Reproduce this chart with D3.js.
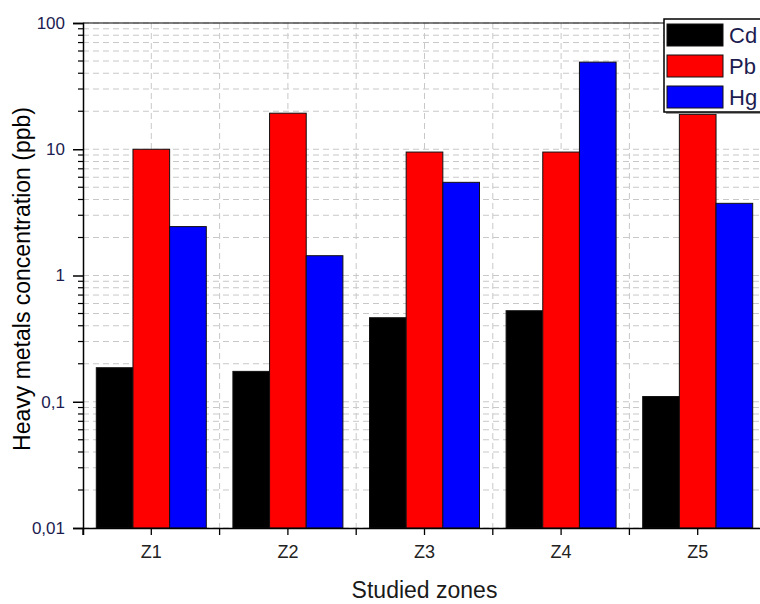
<!DOCTYPE html>
<html>
<head>
<meta charset="utf-8">
<script src="https://cdn.jsdelivr.net/npm/d3@7"></script>
<style>
    body { margin: 0; background: #fff; }
    svg { display: block; font-family: Arial, "Liberation Sans", sans-serif; }
</style>
</head>
<body>
<div id="chart"></div>
<script>
// datos
const zones = ["Z1", "Z2", "Z3", "Z4", "Z5"];
const metals = ["Cd", "Pb", "Hg"];
const cdValues = [0.186, 0.174, 0.463, 0.526, 0.110];
const pbValues = [10.0, 19.3, 9.5, 9.5, 18.9];
const hgValues = [2.44, 1.435, 5.47, 49, 3.73];
const yTickValues = [100, 10, 1, 0.1, 0.01];
const yTickLabels = ["100", "10", "1", "0,1", "0,01"];
const metalColors = ["#000000", "#ff0000", "#0000ff"];

const seriesValues = [cdValues, pbValues, hgValues];

const width = 760, height = 604;
const margin = { left: 83, top: 23, right: 766, bottom: 528 };

let svg = d3.select("#chart").append("svg")
    .attr("width", width)
    .attr("height", height);

// eje x: una banda por zona, y dentro una sub-banda por metal
let x = d3.scaleBand()
    .domain(zones)
    .range([margin.left, margin.right])
    .paddingInner(0)
    .paddingOuter(0);

let xInner = d3.scaleBand()
    .domain(metals)
    .range([0, 110]);

// eje y logaritmico
let y = d3.scaleLog()
    .domain([0.01, 100])
    .range([margin.bottom, margin.top]);

// marcas menores: 2..9 en cada decada
let minorValues = [];
[0.01, 0.1, 1, 10].forEach(d => {
    for (let k = 2; k <= 9; k++) minorValues.push(d * k);
});

// rejilla horizontal
let grid = svg.append("g").attr("class", "grid");
grid.selectAll("line.h")
    .data(minorValues.concat(yTickValues))
    .enter().append("line")
    .attr("x1", margin.left).attr("x2", margin.right)
    .attr("y1", d => y(d)).attr("y2", d => y(d))
    .attr("stroke", "#c8c8c8")
    .attr("stroke-width", 1)
    .attr("stroke-dasharray", "6,4");

// rejilla vertical: centros y bordes de zona
let vLines = zones.map(z => x(z) + x.bandwidth() / 2)
    .concat(zones.slice(1).map(z => x(z)));
grid.selectAll("line.v")
    .data(vLines)
    .enter().append("line")
    .attr("x1", d => d).attr("x2", d => d)
    .attr("y1", margin.top).attr("y2", margin.bottom)
    .attr("stroke", "#c8c8c8")
    .attr("stroke-width", 1)
    .attr("stroke-dasharray", "6,4");

// barras
let groups = svg.append("g").selectAll("g")
    .data(zones)
    .enter().append("g")
    .attr("transform", z => "translate(" + (x(z) + x.bandwidth() / 2 - 55) + ",0)");

groups.selectAll("rect")
    .data((z, i) => metals.map((m, j) => ({ metal: m, value: seriesValues[j][i], color: metalColors[j] })))
    .enter().append("rect")
    .attr("x", d => xInner(d.metal))
    .attr("width", xInner.bandwidth())
    .attr("y", d => y(d.value))
    .attr("height", d => margin.bottom - y(d.value))
    .attr("fill", d => d.color)
    .attr("stroke", "#111")
    .attr("stroke-width", 1);

// marco superior y derecho
svg.append("line")
    .attr("x1", margin.left).attr("x2", margin.right)
    .attr("y1", margin.top).attr("y2", margin.top)
    .attr("stroke", "#000").attr("stroke-width", 1.2);
svg.append("line")
    .attr("x1", margin.right).attr("x2", margin.right)
    .attr("y1", margin.top).attr("y2", margin.bottom)
    .attr("stroke", "#000").attr("stroke-width", 1.2);

// eje y
let yAxis = svg.append("g")
    .attr("transform", "translate(" + margin.left + ",0)")
    .call(d3.axisLeft(y)
        .tickValues(yTickValues)
        .tickFormat((d, i) => yTickLabels[i])
        .tickSize(10)
        .tickPadding(8));
yAxis.select(".domain").attr("stroke-width", 1.5);
yAxis.selectAll(".tick line").attr("stroke-width", 1.5);
yAxis.selectAll("text")
    .attr("font-size", 17)
    .attr("fill", "#1c1c50")
    .style("font-family", "Arial, 'Liberation Sans', sans-serif");

svg.append("g")
    .attr("transform", "translate(" + margin.left + ",0)")
    .selectAll("line")
    .data(minorValues)
    .enter().append("line")
    .attr("x1", -5).attr("x2", 0)
    .attr("y1", d => y(d)).attr("y2", d => y(d))
    .attr("stroke", "#000").attr("stroke-width", 1.2);

// eje x
let xAxis = svg.append("g")
    .attr("transform", "translate(0," + margin.bottom + ")")
    .call(d3.axisBottom(x).tickSize(7).tickPadding(10));
xAxis.select(".domain").attr("stroke-width", 1.5);
xAxis.selectAll(".tick line").attr("stroke-width", 1.3);
xAxis.selectAll("text")
    .attr("font-size", 18)
    .attr("fill", "#222")
    .style("font-family", "Arial, 'Liberation Sans', sans-serif");

// marcas en los bordes de zona
xAxis.selectAll("line.edge")
    .data(zones.map(z => x(z)))
    .enter().append("line")
    .attr("x1", d => d).attr("x2", d => d)
    .attr("y1", 0).attr("y2", 7)
    .attr("stroke", "#000").attr("stroke-width", 1.3);

// titulos de los ejes
svg.append("text")
    .attr("x", (margin.left + 766) / 2)
    .attr("y", 598)
    .attr("text-anchor", "middle")
    .attr("font-size", 23)
    .attr("fill", "#1a1a1a")
    .text("Studied zones");

svg.append("text")
    .attr("transform", "translate(30,279) rotate(-90)")
    .attr("text-anchor", "middle")
    .attr("font-size", 23)
    .attr("fill", "#000")
    .text("Heavy metals concentration (ppb)");

// leyenda
let legend = svg.append("g").attr("transform", "translate(664,19)");
legend.append("rect")
    .attr("x", 2).attr("y", 2)
    .attr("width", 120).attr("height", 93)
    .attr("fill", "#999");
legend.append("rect")
    .attr("width", 120).attr("height", 93)
    .attr("fill", "#fff")
    .attr("stroke", "#000")
    .attr("stroke-width", 1.5);
let items = legend.selectAll("g.item")
    .data(metals)
    .enter().append("g")
    .attr("transform", (d, i) => "translate(3," + (5 + i * 31) + ")");
items.append("rect")
    .attr("width", 56).attr("height", 22)
    .attr("fill", (d, i) => metalColors[i])
    .attr("stroke", "#111").attr("stroke-width", 1);
items.append("text")
    .attr("x", 62).attr("y", 19)
    .attr("font-size", 22)
    .attr("fill", "#1c1c50")
    .text(d => d);
</script>
</body>
</html>
